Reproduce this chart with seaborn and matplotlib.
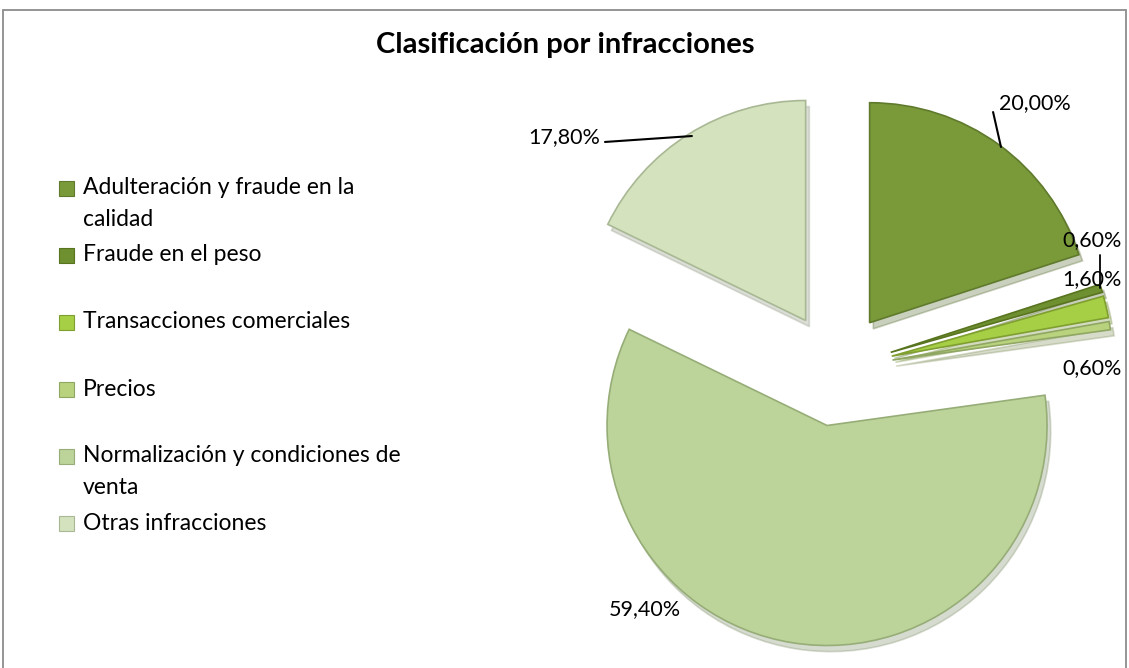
import textwrap
import matplotlib
matplotlib.use("Agg")
import matplotlib.pyplot as plt
from matplotlib.patches import Rectangle
import numpy as np
import seaborn as sns

# ---------------- data ----------------
categories = [
    "Adulteración y fraude en la calidad",
    "Fraude en el peso",
    "Transacciones comerciales",
    "Precios",
    "Normalización y condiciones de venta",
    "Otras infracciones",
]
values = [20.0, 0.6, 1.6, 0.6, 59.4, 17.8]
title = "Clasificación por infracciones"

# ---------------- style ----------------
sns.set_theme(style="white")
plt.rcParams["font.family"] = ["Lato", "DejaVu Sans"]

colors = ["#7a9a3a", "#6f9030", "#a6cf45", "#b9d27e", "#bcd49a", "#d4e2bd"]
edges = ["#5f7a2c", "#58741f", "#7f9f30", "#8fa763", "#97ad78", "#a9b894"]

W, H = 1129, 668
fig = plt.figure(figsize=(W / 100, H / 100), dpi=100)
fig.patch.set_facecolor("white")

# outer frame
fig.patches.append(Rectangle((3 / W, -0.05), 1123 / W, (H - 10) / H + 0.05,
                             transform=fig.transFigure, fill=False,
                             edgecolor="#8c8c8c", linewidth=1.3, zorder=0))

# title
fig.text(565 / W, 1 - 45 / H, title, ha="center", va="center",
         fontsize=21, fontweight="bold", color="black")

# pie axes: centre (836, 369) px, radius 220 px
cx, cy, R, half = 836, 369, 220, 300
ax = fig.add_axes([(cx - half) / W, (H - cy - half) / H, 2 * half / W, 2 * half / H])
explode = [0.26] * len(values)
wedges, _ = ax.pie(values, colors=colors, startangle=90, counterclock=False,
                   explode=explode, radius=1.0,
                   wedgeprops=dict(linewidth=1.2),
                   shadow=dict(ox=0.012, oy=-0.02, shade=0.35, alpha=0.3))
for w, ec in zip(wedges, edges):
    w.set_edgecolor(ec)
ax.set_xlim(-half / R, half / R)
ax.set_ylim(-half / R, half / R)
ax.set_aspect("equal")
ax.axis("off")

# data labels (positions in pie data units)
label_pos = [(0.905, 1.209, "center"), (1.03, 0.586, "left"), (1.03, 0.41, "left"),
             (1.03, 0.005, "left"), (-0.87, -1.09, "center"), (-1.07, 1.055, "right")]
for v, (lx, ly, ha) in zip(values, label_pos):
    txt = f"{v:.2f}%".replace(".", ",")
    ax.text(lx, ly, txt, ha=ha, va="center", fontsize=15.5, color="black",
            clip_on=False)

# leader lines
ax.plot([0.714, 0.75], [1.168, 1.009], color="black", lw=1.5, clip_on=False)
ax.plot([-1.05, -0.655], [1.032, 1.059], color="black", lw=1.5, clip_on=False)
ax.plot([1.2, 1.2], [0.518, 0.368], color="black", lw=1.3, clip_on=False)

# legend (Excel-like, left side)
y0, step, line_h = 188, 67, 32
for i, (cat, col, ec) in enumerate(zip(categories, colors, edges)):
    yy = y0 + step * i
    fig.patches.append(Rectangle((59 / W, 1 - (yy + 7.5) / H), 15 / W, 15 / H,
                                 transform=fig.transFigure, facecolor=col,
                                 edgecolor=ec, linewidth=0.8))
    for j, line in enumerate(textwrap.wrap(cat, width=30)):
        fig.text(83 / W, 1 - (yy + line_h * j) / H, line, ha="left",
                 va="center", fontsize=16.5, color="black")

fig.savefig("out.png", dpi=100, facecolor="white")
